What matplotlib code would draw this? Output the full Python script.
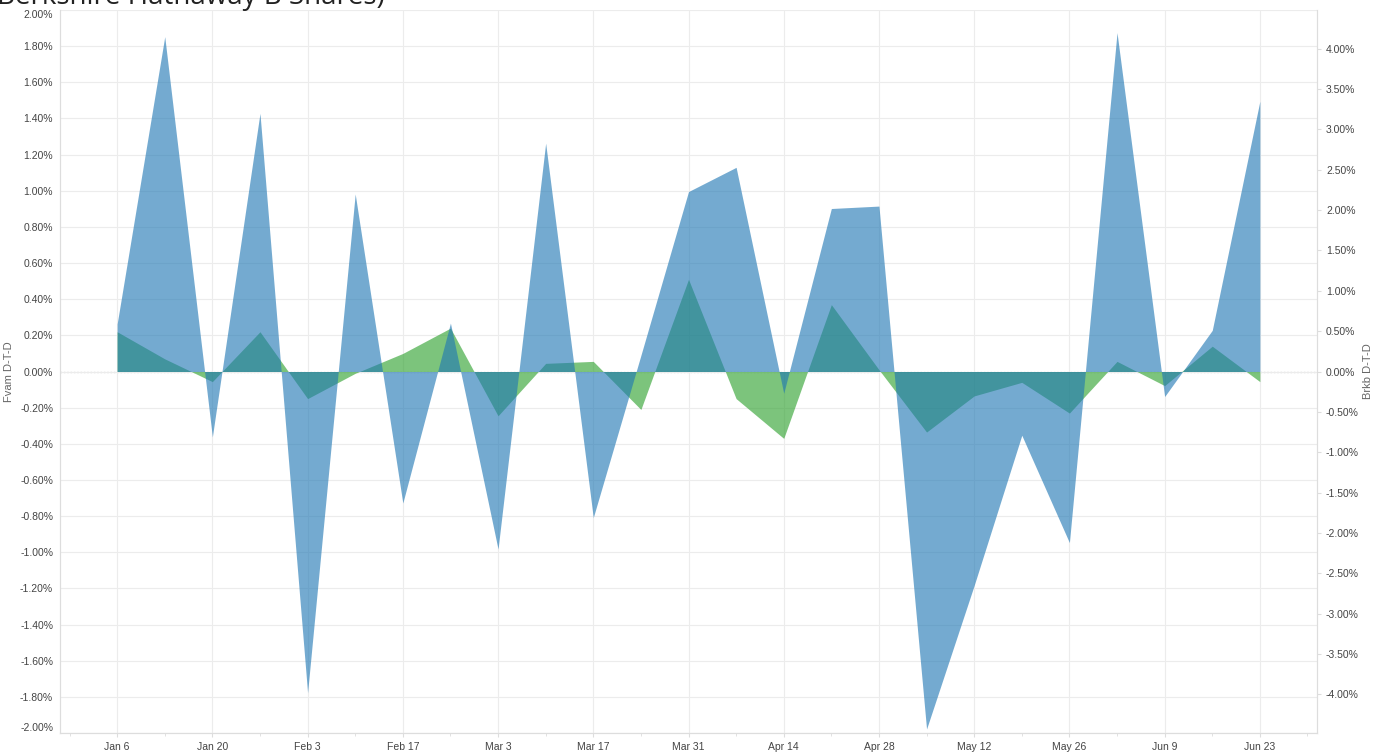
import matplotlib
matplotlib.use('Agg')
from matplotlib import pyplot as pl
import matplotlib.dates as mdates
import matplotlib.ticker as mticker
import pandas as pd

# weekly points, Jan 6 .. Jun 23
dates = pd.date_range('2014-01-06', periods=25, freq='7D')

# Fvam D-T-D (left axis, %)
fvam = [0.22, 0.07, -0.056, 0.22, -0.15, -0.01, 0.10, 0.24, -0.245, 0.045,
        0.056, -0.21, 0.51, -0.15, -0.37, 0.37, 0.01, -0.335, -0.135, -0.06,
        -0.23, 0.056, -0.078, 0.14, -0.056]

# Brkb D-T-D (right axis, %)
brkb = [0.59, 4.15, -0.81, 3.20, -3.98, 2.20, -1.63, 0.60, -2.20, 2.83,
        -1.81, 0.20, 2.23, 2.53, -0.27, 2.02, 2.05, -4.43, -2.65, -0.79,
        -2.12, 4.20, -0.31, 0.51, 3.35]

grey = '#666666'
gridc = '#ececec'
pl.rcParams['font.family'] = ['Liberation Sans', 'DejaVu Sans']

fig = pl.figure(figsize=(13.77, 7.55), dpi=100)
ax = fig.add_axes([60/1377, 22/755, 1257/1377, 723/755])
ax2 = ax.twinx()

ax.fill_between(dates, 0, fvam, color='#2ca02c', alpha=0.62, linewidth=0)
ax2.fill_between(dates, 0, brkb, color='#1f77b4', alpha=0.62, linewidth=0)
ax.axhline(0, color='#555555', linestyle=(0, (1.5, 1.5)), linewidth=0.8, zorder=0)

pad = pd.Timedelta(days=8.4)
ax.set_xlim(dates[0] - pad, dates[-1] + pad)
ax.set_ylim(-2.0, 2.0)
ax2.set_ylim(-4.48, 4.48)

ax.set_yticks([i * 0.2 for i in range(-10, 11)])
ax.yaxis.set_major_formatter(mticker.FuncFormatter(lambda v, p: '%.2f%%' % v))
ax2.set_yticks([i * 0.5 for i in range(-8, 9)])
ax2.yaxis.set_major_formatter(mticker.FuncFormatter(lambda v, p: '%.2f%%' % v))

ax.set_xticks(dates[::2])
ax.xaxis.set_major_formatter(mdates.DateFormatter('%b %-d'))
ax.set_xticks(list(pd.date_range('2013-12-30', periods=27, freq='7D')), minor=True)

ax.grid(True, color=gridc, linewidth=0.8)
ax.set_axisbelow(True)

for a in (ax, ax2):
    for s in a.spines.values():
        s.set_color('#dddddd')
    a.spines['top'].set_visible(False)
    a.tick_params(labelsize=7.5, labelcolor='#444444', color='#dddddd', length=3)
ax.tick_params(axis='y', length=0, pad=5)
ax.tick_params(axis='x', which='minor', length=2, color='#dddddd')

# keep the end labels inside the plot height, as the reference does
fig.canvas.draw()
ylabels = ax.get_yticklabels()
ylabels[-1].set_va('top')
ylabels[0].set_va('bottom')

ax.set_ylabel('Fvam D-T-D', fontsize=8, color=grey)
ax.yaxis.set_label_coords(-46/1257, 0.5)
ax2.set_ylabel('Brkb D-T-D', fontsize=8, color=grey, rotation=90)
ax2.yaxis.set_label_coords(1 + 46/1257, 0.5)

fig.text(-0.002, 1 - 4/755, 'Berkshire Hathaway B Shares)', fontsize=20,
         family=['Open Sans', 'DejaVu Sans'], color='#222222', va='baseline')

fig.savefig('out.png', dpi=100)
